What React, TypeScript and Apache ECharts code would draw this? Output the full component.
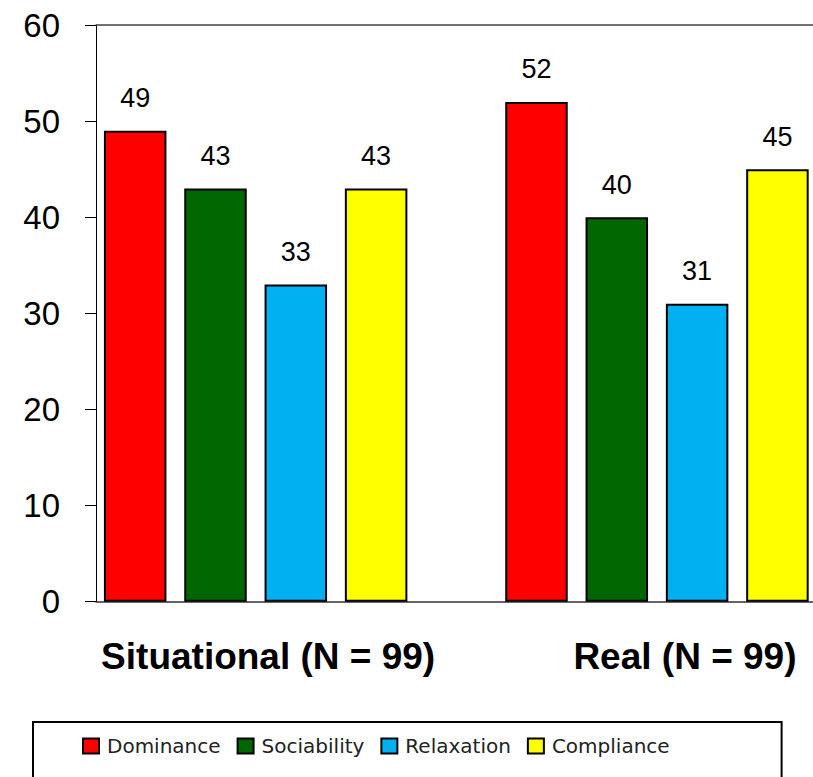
import React, { useEffect, useRef } from "react";
import * as echarts from "echarts";

const categories = ["Situational (N = 99)", "Real (N = 99)"];
const seriesNames = ["Dominance", "Sociability", "Relaxation", "Compliance"];
const dominance = [49, 52];
const sociability = [43, 40];
const relaxation = [33, 31];
const compliance = [43, 45];
const colors = ["#FF0000", "#006600", "#00B0F0", "#FFFF00"];
const yMin = 0;
const yMax = 60;
const yStep = 10;

export default function App() {
  const ref = useRef<HTMLDivElement>(null);
  useEffect(() => {
    document.body.style.margin = "0";
    if (!ref.current) return;
    const chart = echarts.init(ref.current, null, { renderer: "svg" });
    const values = [dominance, sociability, relaxation, compliance];
    const top = 25;
    const bottom = 175.3;
    chart.setOption({
      animation: false,
      backgroundColor: "#ffffff",
      grid: [
        { left: 96, right: 47, top, bottom },
        { left: 55, width: 802.6, top, bottom },
      ],
      legend: {
        data: seriesNames,
        left: 33,
        top: 722,
        orient: "horizontal",
        icon: "rect",
        itemWidth: 16,
        itemHeight: 15,
        itemGap: 16,
        padding: [14, 112, 30, 49],
        borderColor: "#000",
        borderWidth: 2,
        textStyle: {
          fontFamily: "DejaVu Sans",
          fontSize: 20,
          color: "#222",
          padding: [0, 0, 0, 3],
        },
      },
      xAxis: [
        {
          type: "category",
          gridIndex: 0,
          position: "bottom",
          data: categories,
          axisLine: { show: true, lineStyle: { color: "#333", width: 1.5 } },
          axisTick: { show: false },
          axisLabel: { show: false },
          splitLine: { show: false },
        },
        {
          type: "category",
          gridIndex: 0,
          position: "top",
          data: categories,
          axisLine: { show: true, lineStyle: { color: "#444", width: 1.5 } },
          axisTick: { show: false },
          axisLabel: { show: false },
          splitLine: { show: false },
        },
        {
          type: "category",
          gridIndex: 1,
          position: "bottom",
          data: categories,
          axisLine: { show: false },
          axisTick: { show: false },
          splitLine: { show: false },
          axisLabel: {
            margin: 36,
            formatter: (v: string, i: number) => (i === 0 ? `{a|${v}}` : `{b|${v}}`),
            rich: {
              a: {
                fontFamily: "Liberation Sans, Arial",
                fontWeight: "bold",
                fontSize: 37,
                color: "#000",
                padding: [0, 0, 0, 25],
              },
              b: {
                fontFamily: "Liberation Sans, Arial",
                fontWeight: "bold",
                fontSize: 37,
                color: "#000",
                padding: [0, 0, 0, 56],
              },
            },
          },
        },
      ],
      yAxis: [
        {
          type: "value",
          gridIndex: 0,
          min: yMin,
          max: yMax,
          interval: yStep,
          axisLine: { show: true, lineStyle: { color: "#000", width: 1 } },
          axisTick: { show: true, length: 11, lineStyle: { color: "#000", width: 1 } },
          axisLabel: {
            margin: 36,
            fontFamily: "Liberation Sans, Arial",
            fontSize: 33,
            color: "#000",
          },
          splitLine: { show: false },
        },
        {
          type: "value",
          gridIndex: 1,
          min: yMin,
          max: yMax,
          interval: yStep,
          show: false,
          splitLine: { show: false },
        },
      ],
      series: seriesNames.map((name, i) => ({
        name,
        type: "bar",
        xAxisIndex: 2,
        yAxisIndex: 1,
        data: values[i],
        barWidth: 62.5,
        barGap: "28.5%",
        itemStyle: { color: colors[i], borderColor: "#000", borderWidth: 2 },
        label: {
          show: true,
          position: "top",
          distance: 19,
          fontFamily: "Liberation Sans, Arial",
          fontSize: 27,
          color: "#000",
        },
      })),
    });
    return () => chart.dispose();
  }, []);
  return (
    <div style={{ width: 813, height: 777, overflow: "hidden" }}>
      <div ref={ref} style={{ width: 860, height: 777 }} />
    </div>
  );
}
